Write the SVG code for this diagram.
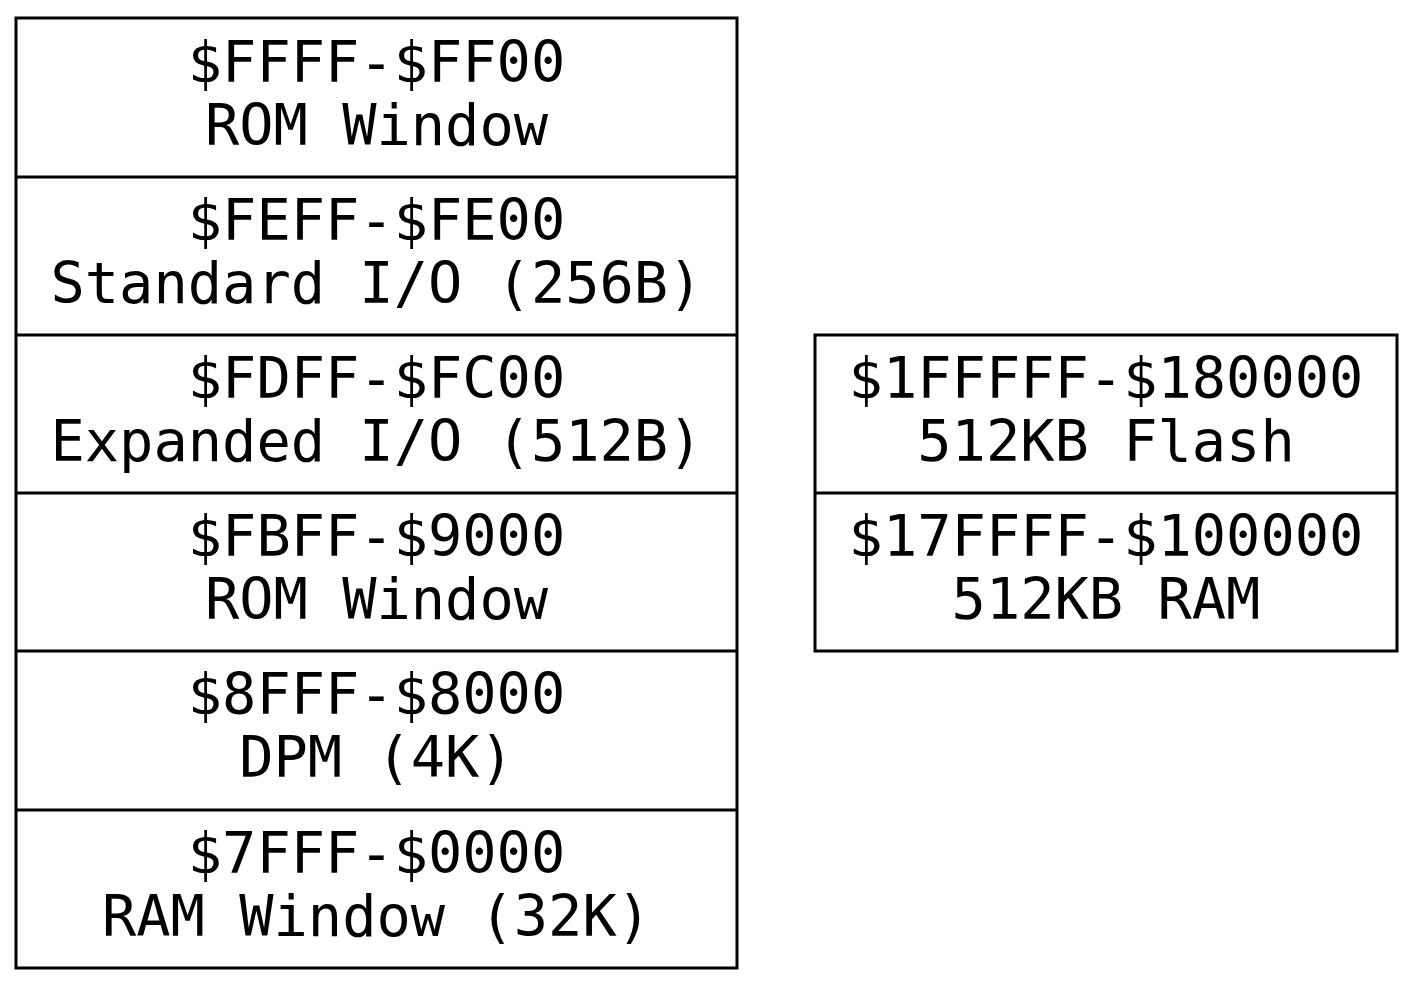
<svg xmlns="http://www.w3.org/2000/svg" width="1415" height="987" viewBox="0 0 1415 987">
<style>
.box{fill:#fff;stroke:#000;stroke-width:3}
.ln{stroke:#000;stroke-width:3}
text{font-family:"DejaVu Sans Mono","Liberation Mono",monospace;font-size:57px;text-anchor:middle;fill:#000}
</style>
<rect width="1415" height="987" fill="#fff"/>
<g id="mem64k">
<rect class="box" x="16" y="18" width="721" height="950"/>
<line class="ln" x1="16" y1="177" x2="737" y2="177"/>
<line class="ln" x1="16" y1="335" x2="737" y2="335"/>
<line class="ln" x1="16" y1="493" x2="737" y2="493"/>
<line class="ln" x1="16" y1="651" x2="737" y2="651"/>
<line class="ln" x1="16" y1="810" x2="737" y2="810"/>
<text x="376.5" y="82">$FFFF-$FF00</text>
<text x="376.5" y="145">ROM Window</text>
<text x="376.5" y="240">$FEFF-$FE00</text>
<text x="376.5" y="303">Standard I/O (256B)</text>
<text x="376.5" y="398">$FDFF-$FC00</text>
<text x="376.5" y="461">Expanded I/O (512B)</text>
<text x="376.5" y="556">$FBFF-$9000</text>
<text x="376.5" y="619">ROM Window</text>
<text x="376.5" y="714">$8FFF-$8000</text>
<text x="376.5" y="777">DPM (4K)</text>
<text x="376.5" y="873">$7FFF-$0000</text>
<text x="376.5" y="936">RAM Window (32K)</text>
</g>
<g id="memext">
<rect class="box" x="815" y="335" width="582" height="316"/>
<line class="ln" x1="815" y1="493" x2="1397" y2="493"/>
<text x="1106" y="398">$1FFFFF-$180000</text>
<text x="1106" y="461">512KB Flash</text>
<text x="1106" y="556">$17FFFF-$100000</text>
<text x="1106" y="619">512KB RAM</text>
</g>
<g id="connectors"/>
</svg>
